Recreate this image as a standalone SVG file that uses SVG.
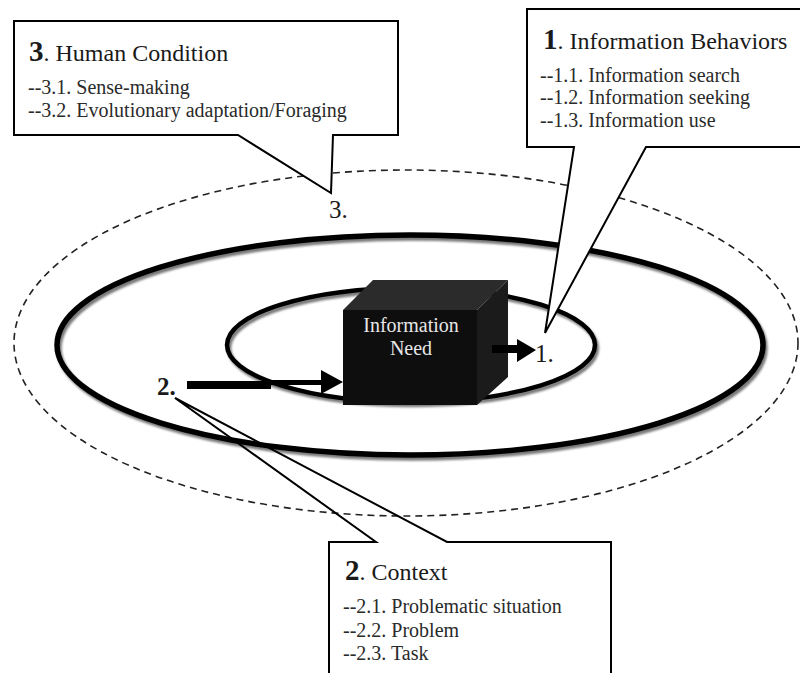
<svg xmlns="http://www.w3.org/2000/svg" width="800" height="673" viewBox="0 0 800 673">
  <defs>
    <style>
      .ring { fill: none; stroke: #000; }
      .shadow { fill: none; stroke: #7a7a7a; filter: url(#soft); }
      .dash { fill: none; stroke: #222; stroke-width: 1.6; stroke-dasharray: 7 5; }
      .callout { stroke: #000; stroke-width: 2; stroke-linejoin: miter; }
      .txt { font-family: "Liberation Serif", "Times New Roman", serif; fill: #1a1a1a; }
      .head { font-size: 24px; }
      .num { font-size: 29px; font-weight: bold; }
      .item { font-size: 20px; fill: #2a2a2a; }
      .lbl { font-size: 25px; }
      .cubetxt { font-family: "Liberation Serif", "Times New Roman", serif; font-size: 20px; fill: #e6e6e6; text-anchor: middle; }
    </style>
    <filter id="soft" x="-5%" y="-5%" width="110%" height="110%">
      <feGaussianBlur stdDeviation="1.2"/>
    </filter>
  </defs>

  <rect width="800" height="673" fill="#fff"/>

  <!-- concentric rings -->
  <g id="rings">
    <ellipse class="dash" cx="406" cy="343" rx="392" ry="173"/>
    <ellipse class="shadow" cx="412" cy="348" rx="353" ry="110" stroke-width="5.5"/>
    <ellipse class="ring" cx="410" cy="345" rx="353" ry="110" stroke-width="5.5"/>
    <ellipse class="shadow" cx="413" cy="348" rx="184" ry="57" stroke-width="4.5"/>
    <ellipse class="ring" cx="411" cy="345" rx="184" ry="57" stroke-width="4.5"/>
  </g>

  <!-- central cube -->
  <g id="information-need">
    <polygon points="343,310 373,280 508,280 477,310" fill="#2b2b2b"/>
    <polygon points="477,310 508,280 508,377 477,405" fill="#1b1b1b"/>
    <rect x="343" y="310" width="134" height="95" fill="#0e0e0e"/>
    <text class="cubetxt" x="411" y="332">Information</text>
    <text class="cubetxt" x="411" y="355">Need</text>
  </g>

  <!-- arrows -->
  <g id="connectors">
    <rect x="187" y="381" width="84" height="8" fill="#000"/>
    <rect x="270" y="380" width="54" height="5" fill="#000"/>
    <polygon points="321,370 343,382 321,394" fill="#000"/>
    <rect x="492" y="345" width="27" height="8" fill="#000"/>
    <polygon points="517,339 536,350 517,362" fill="#000"/>
  </g>

  <!-- ring labels -->
  <g id="ring-labels">
    <text class="txt lbl" x="535" y="362">1.</text>
    <text class="txt lbl" x="157" y="395" font-weight="bold" font-size="22">2.</text>
    <text class="txt lbl" x="329" y="218">3.</text>
  </g>

  <!-- callout 3 -->
  <g id="callout-3">
    <path class="callout" fill="#fff" d="M14,21 H398 V135 H333 L331,193 L238,135 H14 Z"/>
    <text class="txt" x="29" y="61"><tspan class="num">3</tspan><tspan class="head">. Human Condition</tspan></text>
    <text class="txt item" x="28" y="94">--3.1. Sense-making</text>
    <text class="txt item" x="28" y="117">--3.2. Evolutionary adaptation/Foraging</text>
  </g>

  <!-- callout 1 -->
  <g id="callout-1">
    <path class="callout" fill="#fff" d="M527,9 H803 V147 H646 L545,333 L574,147 H527 Z"/>
    <text class="txt" x="543" y="49"><tspan class="num">1</tspan><tspan class="head">. Information Behaviors</tspan></text>
    <text class="txt item" x="540" y="82">--1.1. Information search</text>
    <text class="txt item" x="540" y="104">--1.2. Information seeking</text>
    <text class="txt item" x="540" y="127">--1.3. Information use</text>
  </g>

  <!-- callout 2 -->
  <g id="callout-2">
    <rect x="329" y="542" width="282" height="135" fill="#fff"/>
    <path class="callout" fill="none" d="M329,680 V542 H376 L175,398 L447,542 H611 V680"/>
    <text class="txt" x="345" y="580"><tspan class="num">2</tspan><tspan class="head">. Context</tspan></text>
    <text class="txt item" x="343" y="613">--2.1. Problematic situation</text>
    <text class="txt item" x="343" y="637">--2.2. Problem</text>
    <text class="txt item" x="343" y="660">--2.3. Task</text>
  </g>
</svg>
